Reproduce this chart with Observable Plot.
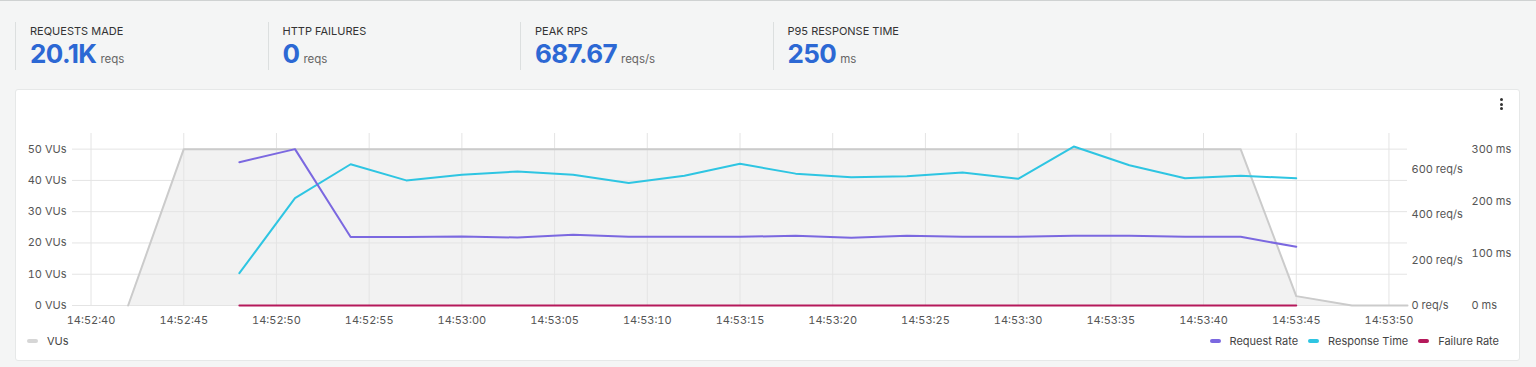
<!DOCTYPE html>
<html>
<head>
<meta charset="utf-8">
<script src="https://cdn.jsdelivr.net/npm/d3@7"></script>
<script src="https://cdn.jsdelivr.net/npm/@observablehq/plot@0.6"></script>
<style>
  html, body { margin: 0; padding: 0; }
  body {
    width: 1536px; height: 367px; background: #f4f5f5; position: relative; overflow: hidden;
    font-family: Inter, "Noto Sans", sans-serif; color: #333;
  }
  .topline { position: absolute; left: 0; top: 0; width: 1536px; height: 1px; background: #cfd2d2; }
  .stat { position: absolute; top: 22px; height: 48px; border-left: 1px solid #dcdfdf; }
  .stat .t { position: absolute; left: 14px; top: 3px; font-size: 11px; line-height: 13px; color: #333; white-space: nowrap; }
  .stat .v { position: absolute; left: 14px; top: 17px; white-space: nowrap; display: flex; align-items: baseline; }
  .stat .num { font-size: 26px; font-weight: 700; color: #2c68d4; letter-spacing: -0.6px; line-height: 30px; }
  .stat .unit { font-size: 11.5px; color: #666; margin-left: 4px; }
  .card { position: absolute; left: 15px; top: 89px; width: 1505px; height: 272px; background: #fff;
          border: 1px solid #e6e8e8; border-radius: 3px; box-sizing: border-box; }
  #chart { position: absolute; left: 0; top: 89px; }
  .kebab { position: absolute; left: 1500px; top: 98px; }
  .kebab div { width: 3px; height: 3px; background: #333; border-radius: 50%; margin-bottom: 1.7px; }
  .legend { position: absolute; top: 334px; font-size: 11px; color: #444; display: flex; align-items: center; white-space: nowrap; }
  .legend .sw { width: 11px; height: 4px; border-radius: 2px; margin-right: 9px; }
  .legend .item { display: flex; align-items: center; margin-left: 10px; }
</style>
</head>
<body>
<div class="topline"></div>
<div id="stats"></div>
<div class="card"></div>
<div id="chart"></div>
<div class="kebab"><div></div><div></div><div></div></div>
<div class="legend" id="legLeft" style="left:27px"></div>
<div class="legend" id="legRight" style="right:37px"></div>
<script>
// ---- Data ----
const statLabels = ["REQUESTS MADE", "HTTP FAILURES", "PEAK RPS", "P95 RESPONSE TIME"];
const statValues = ["20.1K", "0", "687.67", "250"];
const statUnits  = ["reqs", "reqs", "reqs/s", "ms"];

const vuTimes  = ["14:52:42","14:52:45","14:52:48","14:52:51","14:52:54","14:52:57","14:53:00","14:53:03",
                  "14:53:06","14:53:09","14:53:12","14:53:15","14:53:18","14:53:21","14:53:24","14:53:27",
                  "14:53:30","14:53:33","14:53:36","14:53:39","14:53:42","14:53:45","14:53:48","14:53:51"];
const vuValues = [0, 50, 50, 50, 50, 50, 50, 50,
                  50, 50, 50, 50, 50, 50, 50, 50,
                  50, 50, 50, 50, 50, 3, 0, 0];

const metricTimes  = ["14:52:48","14:52:51","14:52:54","14:52:57","14:53:00","14:53:03","14:53:06","14:53:09",
                      "14:53:12","14:53:15","14:53:18","14:53:21","14:53:24","14:53:27","14:53:30","14:53:33",
                      "14:53:36","14:53:39","14:53:42","14:53:45"];
const requestRate  = [630, 687.67, 301, 301, 303, 299, 311, 302, 302, 302, 307, 298, 307, 302, 302, 307, 307, 302, 302, 258];
const responseTime = [62, 206, 271, 240, 251, 257, 251, 235, 249, 272, 253, 246, 248, 255, 243, 305, 269, 244, 249, 244];
const failureRate  = [0, 0, 0, 0, 0, 0, 0, 0, 0, 0, 0, 0, 0, 0, 0, 0, 0, 0, 0, 0];

const xTickLabels = ["14:52:40","14:52:45","14:52:50","14:52:55","14:53:00","14:53:05","14:53:10","14:53:15",
                     "14:53:20","14:53:25","14:53:30","14:53:35","14:53:40","14:53:45","14:53:50"];
const vuTicks  = [0, 10, 20, 30, 40, 50];
const reqTicks = [0, 200, 400, 600];
const msTicks  = [0, 100, 200, 300];
const xDomain  = ["14:52:39", "14:53:51"];

const seriesNames  = ["Request Rate", "Response Time", "Failure Rate"];
const seriesColors = ["#7b68e0", "#2ec5e2", "#b5195b"];
const vuColor = "#cbcbcb";

// ---- Stats ----
const statsEl = document.getElementById("stats");
statLabels.forEach((l, i) => {
  const d = document.createElement("div");
  d.className = "stat";
  d.style.left = (15 + i * 252.5) + "px";
  d.innerHTML = `<div class="t">${l}</div><div class="v"><span class="num">${statValues[i]}</span><span class="unit">${statUnits[i]}</span></div>`;
  statsEl.appendChild(d);
});

// ---- Chart ----
const parse = d3.utcParse("%H:%M:%S");
const reqPerVU = 687.67 / 50;   // right axis 1 mapping
const msPerVU = 300 / 50;       // right axis 2 mapping

const vuData = vuTimes.map((t, i) => ({t: parse(t), v: vuValues[i]}));
const metrics = metricTimes.map((t, i) => ({
  t: parse(t), rr: requestRate[i] / reqPerVU, rt: responseTime[i] / msPerVU, fr: failureRate[i] / reqPerVU
}));
const xTicks = xTickLabels.map(parse);
const grid = "#e4e4e4";

const chart = Plot.plot({
  width: 1536, height: 240,
  marginTop: 44, marginBottom: 24, marginLeft: 72, marginRight: 129,
  x: {type: "utc", domain: xDomain.map(parse)},
  y: {domain: [0, 55]},
  style: {fontFamily: "Inter, 'Noto Sans', sans-serif", fontSize: "11px", color: "#555", background: "transparent", overflow: "visible"},
  marks: [
    Plot.areaY(vuData, {x: "t", y: "v", fill: "#f2f2f2"}),
    Plot.gridX(xTicks, {stroke: grid, strokeOpacity: 1}),
    Plot.gridY(vuTicks, {stroke: grid, strokeOpacity: 1}),
    Plot.lineY(vuData, {x: "t", y: "v", stroke: vuColor, strokeWidth: 2}),
    Plot.lineY(metrics, {x: "t", y: "fr", stroke: seriesColors[2], strokeWidth: 2}),
    Plot.lineY(metrics, {x: "t", y: "rt", stroke: seriesColors[1], strokeWidth: 2}),
    Plot.lineY(metrics, {x: "t", y: "rr", stroke: seriesColors[0], strokeWidth: 2}),
    Plot.axisX({ticks: xTicks, tickFormat: d3.utcFormat("%H:%M:%S"), tickSize: 0, tickPadding: 11, label: null}),
    Plot.axisY({ticks: vuTicks, tickFormat: d => `${d} VUs`, tickSize: 0, tickPadding: 6, label: null}),
    Plot.axisY({anchor: "right", ticks: reqTicks.map(v => v / reqPerVU), tickFormat: d => `${Math.round(d * reqPerVU)} req/s`,
                tickSize: 0, tickPadding: 4, label: null}),
    Plot.axisY({anchor: "right", ticks: msTicks.map(v => v / msPerVU), tickFormat: d => `${Math.round(d * msPerVU)} ms`,
                tickSize: 0, tickPadding: 4, dx: 60, label: null})
  ]
});
document.getElementById("chart").appendChild(chart);

// ---- Legends ----
document.getElementById("legLeft").innerHTML =
  `<div class="item" style="margin-left:0"><div class="sw" style="background:#d6d6d6"></div>VUs</div>`;
document.getElementById("legRight").innerHTML = seriesNames.map((n, i) =>
  `<div class="item"><div class="sw" style="background:${seriesColors[i]}"></div>${n}</div>`).join("");
</script>
</body>
</html>
